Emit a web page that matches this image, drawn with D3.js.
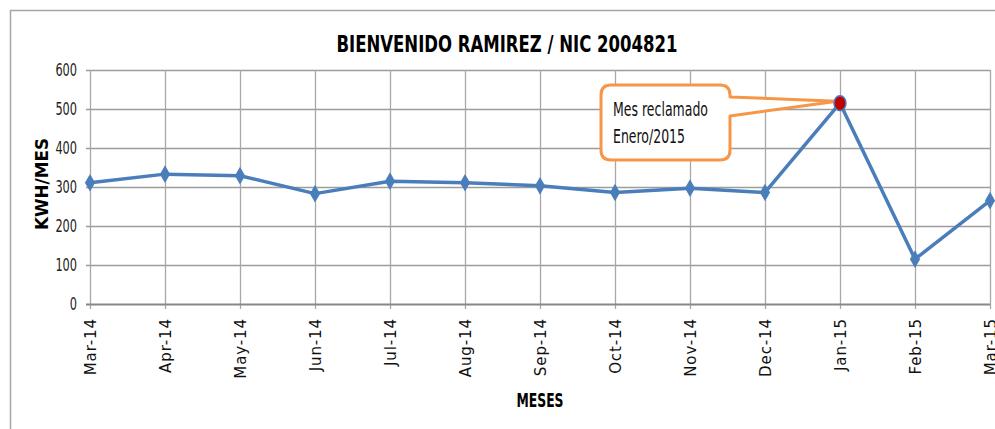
<!DOCTYPE html>
<html>
<head>
<meta charset="utf-8">
<script src="https://cdn.jsdelivr.net/npm/d3@7"></script>
<style>
  body { margin: 0; background: #fff; }
  .narrow { font-family: "Liberation Sans Narrow", "DejaVu Sans Condensed", "Arial Narrow", sans-serif; }
</style>
</head>
<body>
<svg id="chart" width="995" height="429"></svg>
<script>
const months = ["Mar-14", "Apr-14", "May-14", "Jun-14", "Jul-14", "Aug-14", "Sep-14",
                "Oct-14", "Nov-14", "Dec-14", "Jan-15", "Feb-15", "Mar-15"];
const kwh    = [311, 333, 329, 283, 315, 311, 303, 286, 297, 286, 515, 115, 265];
const yTicks = [0, 100, 200, 300, 400, 500, 600];
const title  = "BIENVENIDO RAMIREZ / NIC 2004821";
const note   = ["Mes reclamado", "Enero/2015"];
const noteAt = "Jan-15";

const main = function() {
  const svg = d3.select("#chart");
  const m = { left: 90, right: 5, top: 70, bottom: 125 };
  const W = 995, H = 429;

  //outer frame
  svg.append("rect")
    .attr("x", 10.5).attr("y", 10.5)
    .attr("width", 1000).attr("height", 440)
    .attr("fill", "none").attr("stroke", "#a6a6a6").attr("stroke-width", 1.5);

  const x = d3.scalePoint().domain(months).range([m.left, W - m.right]);
  const y = d3.scaleLinear().domain([0, 600]).range([H - m.bottom, m.top]);

  //grid
  svg.append("g").selectAll("line.h")
    .data(yTicks.filter(t => t > 0))
    .join("line")
      .attr("x1", m.left - 4).attr("x2", W - m.right)
      .attr("y1", d => y(d) + 0.5).attr("y2", d => y(d) + 0.5)
      .attr("stroke", "#9c9c9c").attr("stroke-width", 1.3);
  svg.append("g").selectAll("line.v")
    .data(months)
    .join("line")
      .attr("x1", d => x(d) + 0.5).attr("x2", d => x(d) + 0.5)
      .attr("y1", m.top).attr("y2", y(0) + 5)
      .attr("stroke", "#a8a8a8").attr("stroke-width", 1.3);

  //baseline
  svg.append("line")
    .attr("x1", m.left - 4).attr("x2", W - m.right)
    .attr("y1", y(0) + 0.5).attr("y2", y(0) + 0.5)
    .attr("stroke", "#878787").attr("stroke-width", 2);

  //y tick labels
  svg.append("g").selectAll("text")
    .data(yTicks)
    .join("text")
      .attr("class", "narrow")
      .attr("x", 77).attr("y", d => y(d) + 6)
      .attr("text-anchor", "end")
      .attr("font-size", 17).attr("fill", "#222")
      .attr("textLength", d => String(d).length * 7.2).attr("lengthAdjust", "spacingAndGlyphs")
      .text(d => d);

  //x tick labels
  svg.append("g").selectAll("text")
    .data(months)
    .join("text")
      .attr("transform", d => `translate(${x(d) + 5.5},${y(0) + 14}) rotate(-90)`)
      .attr("text-anchor", "end")
      .attr("font-family", "DejaVu Sans, Verdana, sans-serif")
      .attr("font-size", 15).attr("letter-spacing", 0.9).attr("fill", "#111")
      .text(d => d);

  //title and axis titles
  svg.append("text")
    .attr("class", "narrow")
    .attr("x", 507).attr("y", 52)
    .attr("text-anchor", "middle")
    .attr("font-size", 23).attr("font-weight", "bold")
    .attr("textLength", 341).attr("lengthAdjust", "spacingAndGlyphs")
    .text(title);
  svg.append("text")
    .attr("transform", "translate(48,184) rotate(-90)")
    .attr("text-anchor", "middle")
    .attr("font-family", "DejaVu Sans, sans-serif")
    .attr("font-size", 18).attr("font-weight", "bold")
    .attr("textLength", 92).attr("lengthAdjust", "spacingAndGlyphs")
    .text("KWH/MES");
  svg.append("text")
    .attr("class", "narrow")
    .attr("x", 540).attr("y", 407)
    .attr("text-anchor", "middle")
    .attr("font-size", 19).attr("font-weight", "bold")
    .attr("textLength", 47).attr("lengthAdjust", "spacingAndGlyphs")
    .text("MESES");

  //series line + diamonds
  const line = d3.line().x((d, i) => x(months[i])).y(d => y(d));
  svg.append("path")
    .datum(kwh)
    .attr("d", line)
    .attr("fill", "none")
    .attr("stroke", "#4a7ebb").attr("stroke-width", 3.5)
    .attr("stroke-linejoin", "round");

  const diamond = d3.symbol().type(d3.symbolDiamond).size(90);
  svg.append("g").selectAll("path")
    .data(kwh.map((v, i) => ({ m: months[i], v })))
    .join("path")
      .filter(d => d.m !== noteAt)
      .attr("transform", d => `translate(${x(d.m)},${y(d.v)})`)
      .attr("d", diamond)
      .attr("fill", "#4a7ebb");

  //callout
  const hi = kwh[months.indexOf(noteAt)];
  const tx = x(noteAt), ty = y(hi);
  const bx = 601, by = 85, bw = 129, bh = 75, r = 10;
  const p = d3.path();
  p.moveTo(bx + r, by);
  p.lineTo(bx + bw - r, by);
  p.quadraticCurveTo(bx + bw, by, bx + bw, by + r);
  p.lineTo(bx + bw, by + 12);
  p.lineTo(tx - 3, ty - 2);
  p.lineTo(bx + bw, by + 31);
  p.lineTo(bx + bw, by + bh - r);
  p.quadraticCurveTo(bx + bw, by + bh, bx + bw - r, by + bh);
  p.lineTo(bx + r, by + bh);
  p.quadraticCurveTo(bx, by + bh, bx, by + bh - r);
  p.lineTo(bx, by + r);
  p.quadraticCurveTo(bx, by, bx + r, by);
  p.closePath();
  svg.append("path")
    .attr("d", p.toString())
    .attr("fill", "#fff")
    .attr("stroke", "#f79646").attr("stroke-width", 3)
    .attr("stroke-linejoin", "round");

  const noteLen = [95, 72];
  svg.append("g").selectAll("text")
    .data(note)
    .join("text")
      .attr("class", "narrow")
      .attr("x", 613).attr("y", (d, i) => 116 + i * 27)
      .attr("font-size", 19).attr("fill", "#111")
      .attr("textLength", (d, i) => noteLen[i]).attr("lengthAdjust", "spacingAndGlyphs")
      .text(d => d);

  //claimed month marker
  svg.append("ellipse")
    .attr("cx", tx).attr("cy", ty)
    .attr("rx", 6).attr("ry", 7.5)
    .attr("fill", "#c00000")
    .attr("stroke", "#4a7ebb").attr("stroke-width", 1.5);
}();
</script>
</body>
</html>
